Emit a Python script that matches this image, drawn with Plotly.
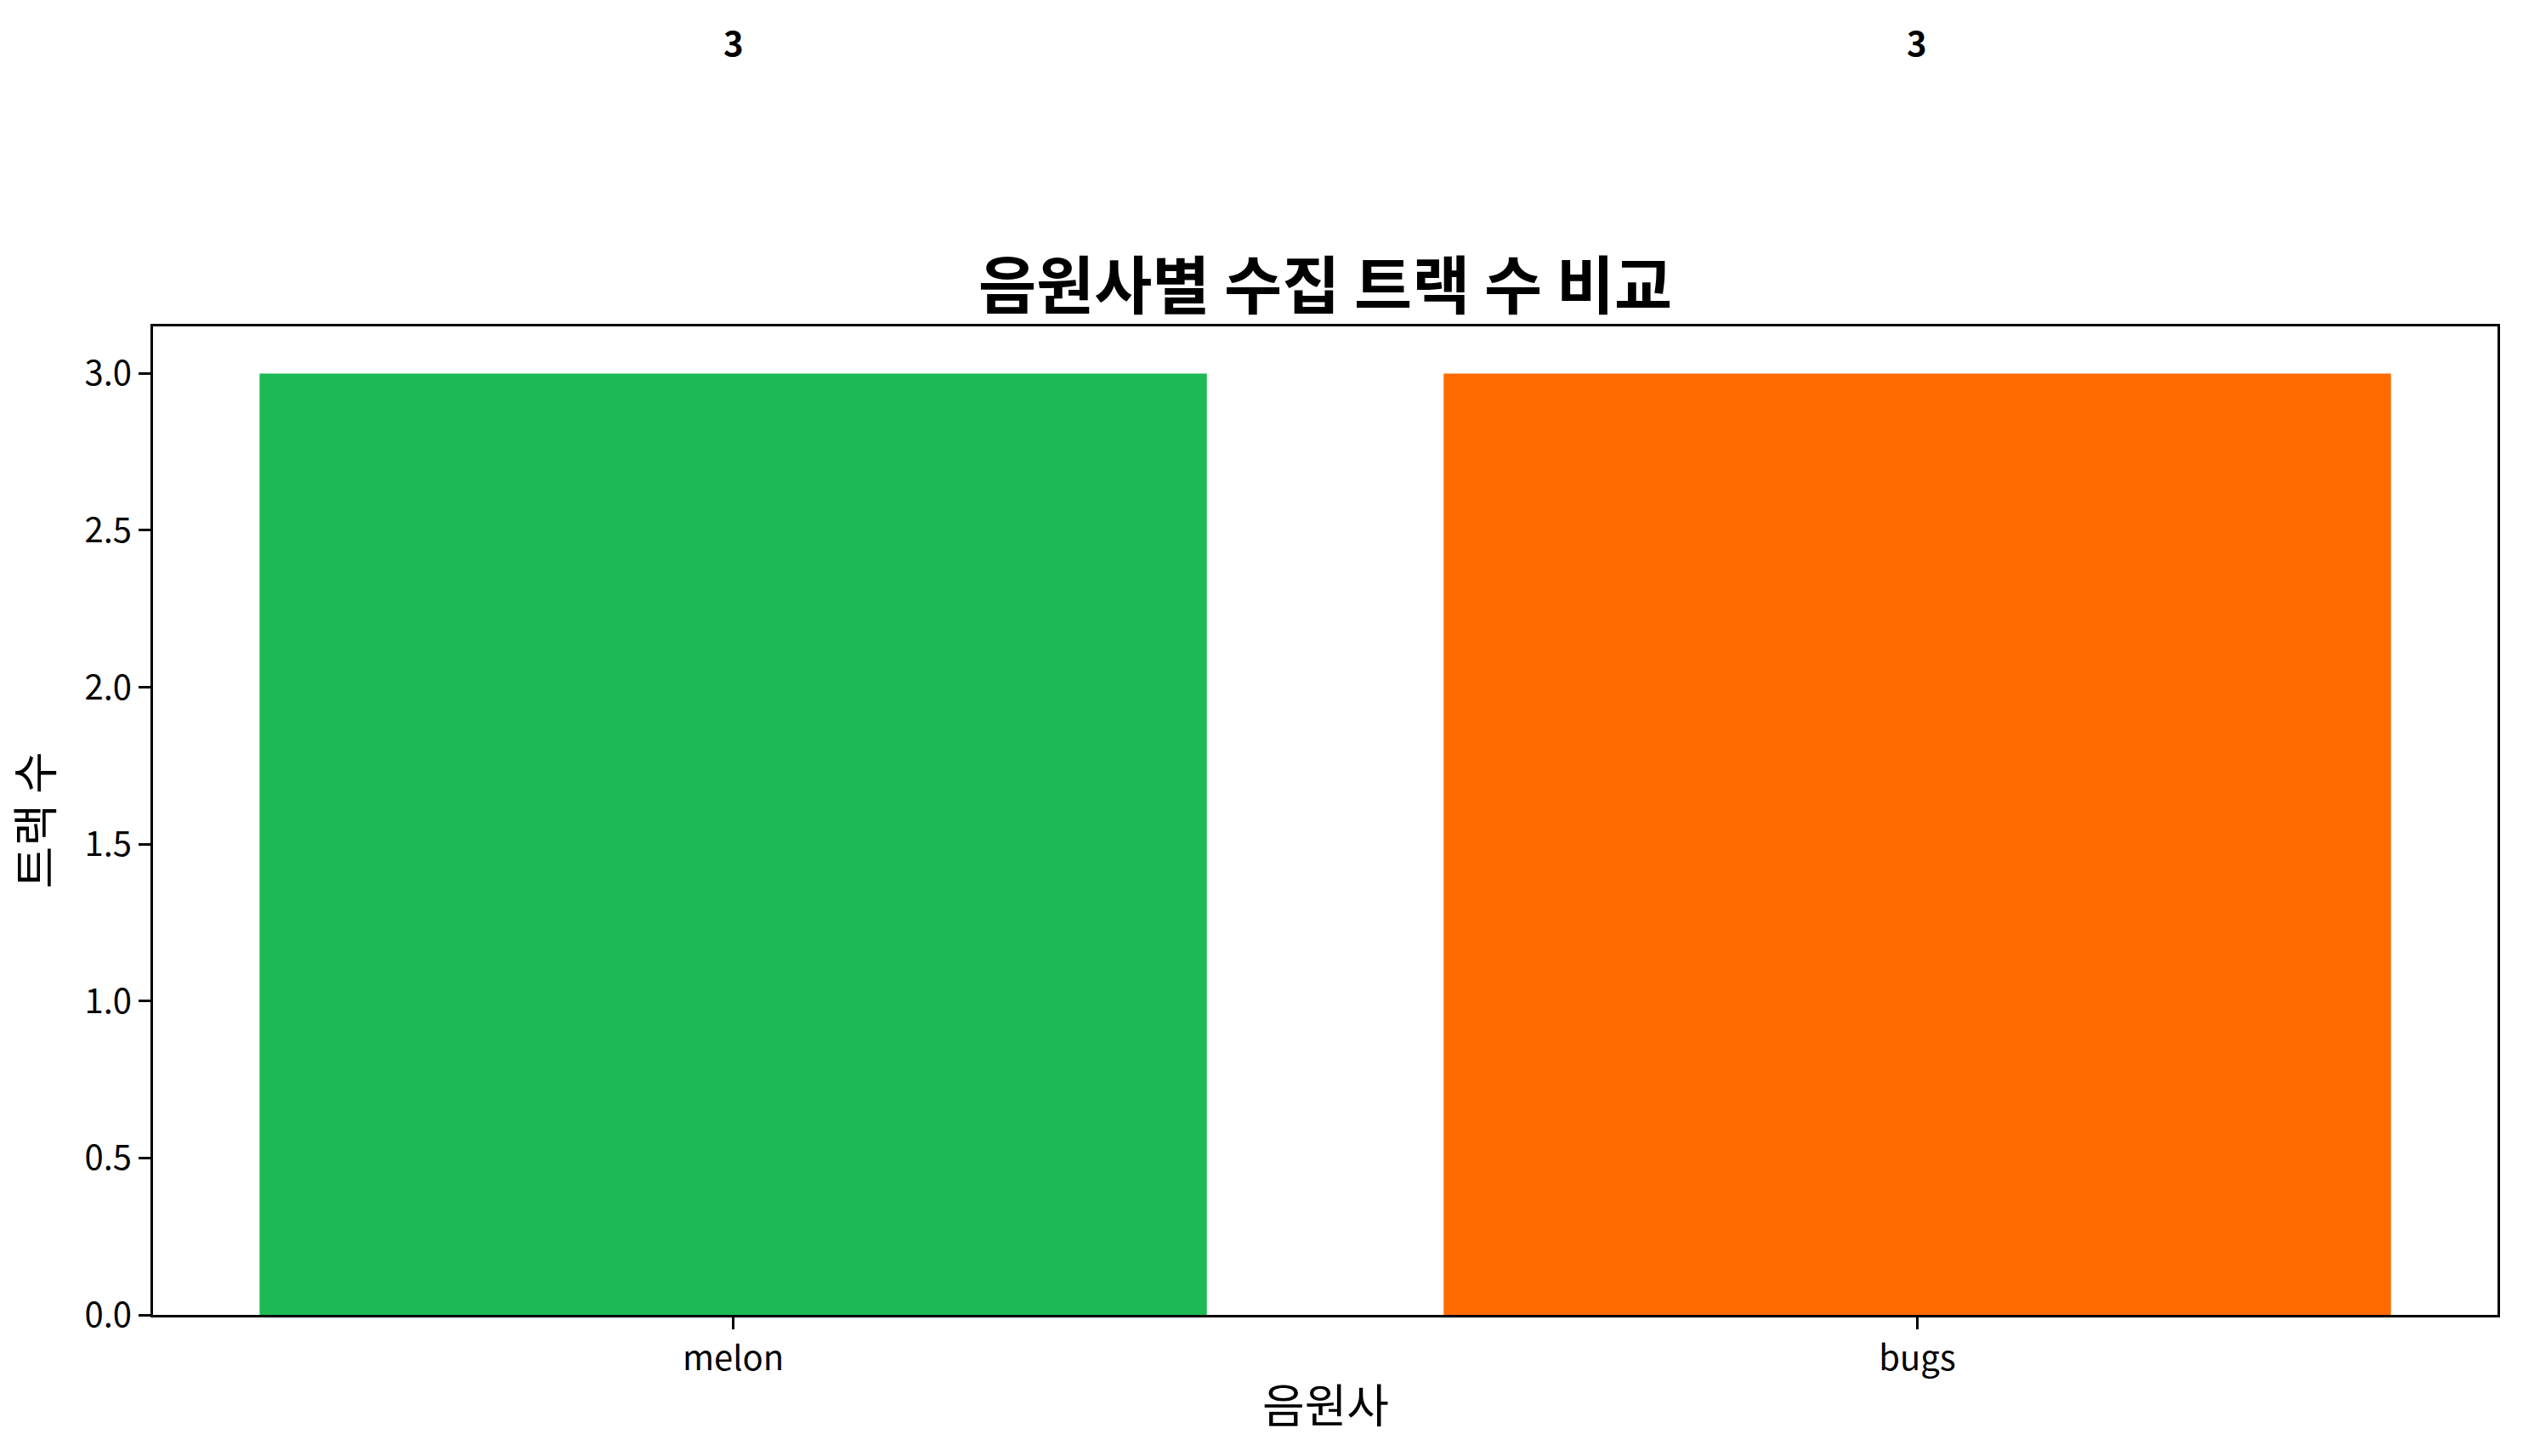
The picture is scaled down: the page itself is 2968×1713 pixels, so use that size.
import plotly.graph_objects as go

# ---- data ----
platforms = ["melon", "bugs"]
track_counts = [3, 3]
bar_colors = ["#1DB954", "#FF6B00"]
y_tick_values = [0.0, 0.5, 1.0, 1.5, 2.0, 2.5, 3.0]

title_text = "음원사별 수집 트랙 수 비교"
x_title = "음원사"
y_title = "트랙 수"

FONT = "Noto Sans CJK KR, Malgun Gothic, sans-serif"
W, H = 2968, 1713
L, R, T, B = 180, 30, 384, 166
plot_h = H - T - B
y_max = max(track_counts) * 1.05
label_shift_px = 390  # value labels sit far above the bars in the reference

fig = go.Figure()
fig.add_trace(go.Bar(
    x=platforms, y=track_counts, width=0.8,
    marker=dict(color=bar_colors, line=dict(width=0)),
    showlegend=False,
))

for p, v in zip(platforms, track_counts):
    fig.add_annotation(
        x=p, y=v, xref="x", yref="y", yshift=label_shift_px,
        text=f"<b>{v}</b>", showarrow=False,
        xanchor="center", yanchor="middle",
        font=dict(family=FONT, size=40, color="black"),
    )

# title
fig.add_annotation(
    x=0.5, y=1 + (T - 330) / plot_h, xref="paper", yref="paper",
    text=f"<b>{title_text}</b>", showarrow=False,
    xanchor="center", yanchor="middle",
    font=dict(family=FONT, size=74, color="black"),
)
# x axis title
fig.add_annotation(
    x=0.5, y=-(1650 - (H - B)) / plot_h, xref="paper", yref="paper",
    text=x_title, showarrow=False, xanchor="center", yanchor="middle",
    font=dict(family=FONT, size=54, color="black"),
)
# y axis title
fig.add_annotation(
    x=(38 - L) / (W - L - R), y=0.5, xref="paper", yref="paper",
    text=y_title, showarrow=False, textangle=-90,
    xanchor="center", yanchor="middle",
    font=dict(family=FONT, size=54, color="black"),
)

axis_common = dict(
    showline=True, linecolor="black", linewidth=3, mirror=True,
    ticks="outside", ticklen=14, tickwidth=3, tickcolor="black",
    showgrid=False, zeroline=False,
    tickfont=dict(family=FONT, size=40, color="black"),
)

fig.update_layout(
    width=W, height=H,
    margin=dict(l=L, r=R, t=T, b=B, pad=0, autoexpand=False),
    paper_bgcolor="white", plot_bgcolor="white",
    font=dict(family=FONT, color="black"),
    bargap=0.2,
    xaxis=dict(range=[-0.49, 1.49], **axis_common),
    yaxis=dict(range=[0, y_max], tickvals=y_tick_values, tickformat=".1f", **axis_common),
)

fig.write_html("out.html")
